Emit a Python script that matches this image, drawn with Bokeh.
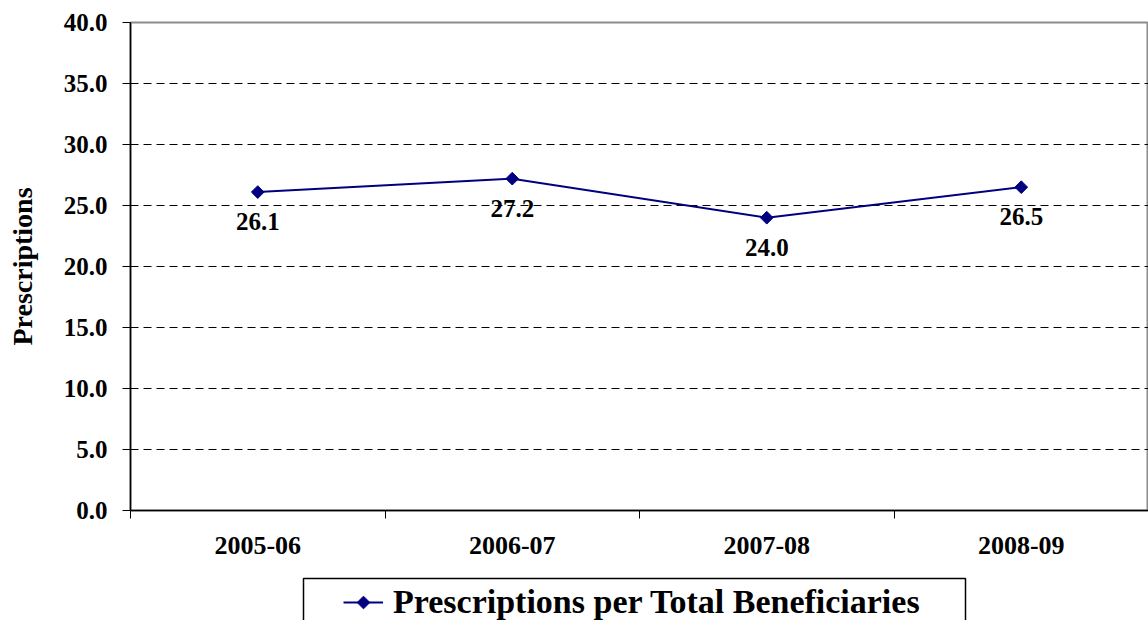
import math
from bokeh.plotting import figure
from bokeh.layouts import column
from bokeh.models import (FixedTicker, Legend, LegendItem, LabelSet,
                          ColumnDataSource, Range1d, BoxAnnotation)
from bokeh.embed import file_html
from bokeh.resources import INLINE

categories = ["2005-06", "2006-07", "2007-08", "2008-09"]
values = [26.1, 27.2, 24.0, 26.5]
y_ticks = [0, 5, 10, 15, 20, 25, 30, 35, 40]
series_name = "Prescriptions per Total Beneficiaries"
y_title = "Prescriptions"

FONT = "Liberation Serif"
NAVY = "#000080"
W = 1148
FRAME_LEFT = 130
# legend strip layout (pixels in the strip)
LEG_GLYPH_X, LEG_GLYPH_W, LEG_ROW_Y, LEG_ROW_H = 343, 40, 18, 40
LEG_BOX = dict(left=303, right=965, top=42, bottom=-20)

xs = [i + 0.5 for i in range(len(categories))]
src = ColumnDataSource(dict(x=xs, y=values, lab=["%.1f" % v for v in values]))

p = figure(width=W, height=565, output_backend="svg", toolbar_location=None,
           x_range=Range1d(0, len(categories)), y_range=Range1d(0, 40),
           min_border_left=FRAME_LEFT, min_border_top=22, min_border_right=0,
           min_border_bottom=55)
p.outline_line_color = "#8c8c8c"
p.outline_line_width = 2
p.background_fill_color = "white"
p.border_fill_color = "white"

# y axis
p.yaxis.ticker = FixedTicker(ticks=y_ticks)
p.yaxis.major_label_overrides = {t: "%.1f" % t for t in y_ticks}
p.yaxis.major_tick_out = 8
p.yaxis.major_tick_in = 0
p.yaxis.minor_tick_out = 0
p.yaxis.minor_tick_in = 0
p.yaxis.axis_line_color = "black"
p.yaxis.axis_line_width = 1.5
p.yaxis.major_tick_line_color = "black"
p.yaxis.major_label_text_font = FONT
p.yaxis.major_label_text_font_style = "bold"
p.yaxis.major_label_text_font_size = "25px"
p.yaxis.major_label_text_color = "black"
p.yaxis.major_label_standoff = 15
p.yaxis.axis_label = y_title
p.yaxis.axis_label_text_font = FONT
p.yaxis.axis_label_text_font_style = "bold"
p.yaxis.axis_label_text_font_size = "28px"
p.yaxis.axis_label_text_color = "black"
p.yaxis.axis_label_standoff = 23

# x axis: labels at category centers, tick marks at category boundaries
p.xaxis.ticker = FixedTicker(ticks=xs, minor_ticks=list(range(len(categories) + 1)))
p.xaxis.major_label_overrides = {x: c for x, c in zip(xs, categories)}
p.xaxis.major_tick_out = 0
p.xaxis.major_tick_in = 0
p.xaxis.minor_tick_out = 8
p.xaxis.minor_tick_in = 0
p.xaxis.minor_tick_line_color = "black"
p.xaxis.axis_line_color = "black"
p.xaxis.axis_line_width = 1.5
p.xaxis.major_label_text_font = FONT
p.xaxis.major_label_text_font_style = "bold"
p.xaxis.major_label_text_font_size = "26px"
p.xaxis.major_label_text_color = "black"
p.xaxis.major_label_standoff = 18

p.xgrid.visible = False
p.ygrid.ticker = FixedTicker(ticks=y_ticks[1:-1])
p.ygrid.grid_line_color = "black"
p.ygrid.grid_line_dash = "8 5"
p.ygrid.grid_line_width = 1

line_style = dict(line_color=NAVY, line_width=2)
mark_style = dict(marker="square", size=9, angle=math.pi / 4,
                  fill_color=NAVY, line_color=NAVY)

p.line("x", "y", source=src, **line_style)
p.scatter("x", "y", source=src, **mark_style)

labels = LabelSet(x="x", y="y", text="lab", source=src, y_offset=-21,
                  text_align="center", text_baseline="top",
                  text_font=FONT, text_font_style="bold",
                  text_font_size="25px", text_color="black")
p.add_layout(labels)

# legend strip below the chart (its frame is aligned with the chart's frame,
# and its ranges are in pixels)
p2 = figure(width=W, height=55, output_backend="svg", toolbar_location=None,
            x_range=Range1d(FRAME_LEFT, W), y_range=Range1d(0, 55),
            x_axis_location=None, y_axis_location=None,
            min_border_left=FRAME_LEFT, min_border_right=0, min_border_top=0,
            min_border_bottom=0)
p2.grid.visible = False
p2.outline_line_color = None
p2.border_fill_color = "white"
p2.background_fill_color = "white"

# hidden copy of the series line, used only for the legend glyph
l2 = p2.line("x", "y", source=src, visible=False, **line_style)

p2.add_layout(BoxAnnotation(fill_alpha=0, line_color="black", line_alpha=1.0,
                            line_width=1.5, **LEG_BOX))

legend = Legend(items=[LegendItem(label=series_name, renderers=[l2])],
                location=(LEG_GLYPH_X - FRAME_LEFT, LEG_ROW_Y - LEG_ROW_H / 2),
                border_line_color=None,
                background_fill_alpha=0, click_policy="none",
                label_text_font=FONT, label_text_font_style="bold",
                label_text_font_size="34px", label_text_color="black",
                glyph_width=LEG_GLYPH_W, glyph_height=LEG_ROW_H,
                label_height=LEG_ROW_H,
                label_standoff=10, padding=0, spacing=0, margin=0)
p2.add_layout(legend, "center")

# diamond symbol of the legend entry, centred on the legend line
p2.scatter([LEG_GLYPH_X + LEG_GLYPH_W / 2], [LEG_ROW_Y], **mark_style)

layout = column(p, p2, spacing=0)
open("out.html", "w").write(file_html(layout, INLINE))
